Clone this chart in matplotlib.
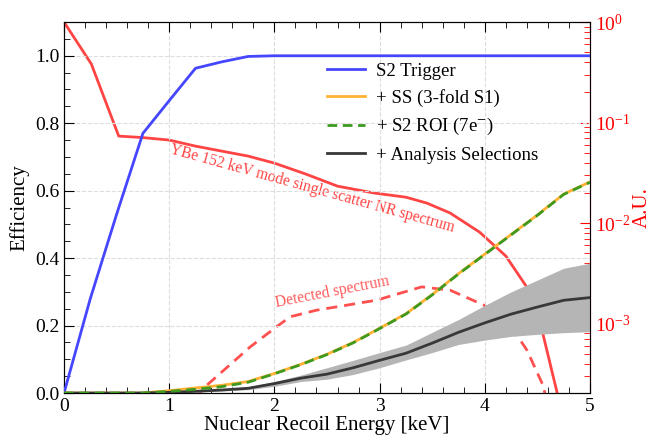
import numpy as np
import matplotlib
matplotlib.use('Agg')
import matplotlib.pyplot as plt
from matplotlib.ticker import MultipleLocator, LogLocator, NullFormatter

plt.rcParams['font.family'] = 'serif'
plt.rcParams['font.serif'] = ['Liberation Serif', 'DejaVu Serif']
plt.rcParams['mathtext.fontset'] = 'stix'

# efficiencies (left axis)
energy = [0, 0.25, 0.5, 0.75, 1.0, 1.25, 1.5, 1.75, 2.0, 2.25, 2.5,
          2.75, 3.0, 3.25, 3.5, 3.75, 4.0, 4.25, 4.5, 4.75, 5.0]
trigger_e = [0, 0.25, 0.5, 0.75, 1.0, 1.25, 1.5, 1.75, 2.0, 5.0]
trigger = [0, 0.28, 0.53, 0.77, 0.867, 0.963, 0.982, 0.998, 1.0, 1.0]
ss = [0, 0, 0, 0, 0.007, 0.015, 0.023, 0.034, 0.058, 0.085, 0.115,
      0.150, 0.192, 0.235, 0.292, 0.354, 0.412, 0.470, 0.528, 0.590, 0.626]
roi = [0, 0, 0, 0, 0.005, 0.011, 0.019, 0.032, 0.057, 0.084, 0.114,
       0.149, 0.191, 0.234, 0.291, 0.353, 0.411, 0.469, 0.527, 0.589, 0.625]
ana = [0, 0, 0, 0, 0.002, 0.005, 0.009, 0.014, 0.028, 0.044, 0.056,
       0.075, 0.097, 0.118, 0.148, 0.180, 0.208, 0.234, 0.255, 0.275, 0.283]
ana_hi = [0, 0, 0, 0, 0.003, 0.007, 0.012, 0.018, 0.034, 0.053, 0.075,
          0.097, 0.120, 0.142, 0.180, 0.218, 0.260, 0.300, 0.335, 0.370, 0.385]
ana_lo = [0, 0, 0, 0, 0.001, 0.003, 0.006, 0.010, 0.020, 0.034, 0.041,
          0.055, 0.075, 0.098, 0.120, 0.144, 0.157, 0.168, 0.174, 0.179, 0.182]

# spectra (right axis, log)
spec_e = [0, 0.26, 0.52, 0.75, 1.0, 1.25, 1.5, 1.75, 2.0, 2.3, 2.6,
          2.95, 3.25, 3.45, 3.67, 3.95, 4.2, 4.47, 4.75]
spec = [1.0, 0.382, 0.0734, 0.0709, 0.067, 0.0583, 0.052, 0.0464, 0.0395,
        0.0307, 0.0233, 0.0199, 0.0181, 0.0158, 0.0126, 0.00813, 0.0047,
        0.00179, 1.1e-4]
det_e = [1.25, 1.34, 1.77, 2.02, 2.15, 2.4, 2.97, 3.4, 3.67, 3.99, 4.21,
         4.4, 4.56, 4.7]
det = [1.8e-4, 2.35e-4, 5.87e-4, 9.3e-4, 1.17e-3, 1.36e-3, 1.71e-3,
       2.32e-3, 2.15e-3, 1.53e-3, 1.08e-3, 5.45e-4, 2.35e-4, 3e-5]

fig = plt.figure(figsize=(6.64, 4.41), dpi=100)
ax = fig.add_axes([0.0964, 0.1088, 0.7922, 0.8412])

ax.fill_between(energy, ana_lo, ana_hi, color='#b5b5b5', lw=0, zorder=1)
ax.plot(trigger_e, trigger, color='#4646ff', lw=2, label='S2 Trigger', zorder=3)
ax.plot(energy, ss, color='#ffb233', lw=2, label='+ SS (3-fold S1)', zorder=3)
ax.plot(energy, roi, color='#3d9a1f', lw=2, ls=(0, (3.5, 2)),
        label='+ S2 ROI (7e$^{-}$)', zorder=4)
ax.plot(energy, ana, color='#383838', lw=2, label='+ Analysis Selections', zorder=3)

ax.set_xlim(0, 5)
ax.set_ylim(0, 1.1)
ax.set_xlabel('Nuclear Recoil Energy [keV]', fontsize=15, labelpad=1)
ax.set_ylabel('Efficiency', fontsize=15, labelpad=4)
ax.xaxis.set_major_locator(MultipleLocator(1))
ax.xaxis.set_minor_locator(MultipleLocator(0.2))
ax.yaxis.set_major_locator(MultipleLocator(0.2))
ax.yaxis.set_minor_locator(MultipleLocator(0.05))
ax.tick_params(which='both', direction='in', top=True, right=False, labelsize=14)
ax.tick_params(which='major', length=7)
ax.tick_params(which='minor', length=4)
ax.grid(True, which='major', ls='--', color='#dddddd', lw=0.8)
ax.set_axisbelow(True)

ax2 = ax.twinx()
ax2.set_yscale('log')
ax2.plot(spec_e, spec, color='#ff4444', lw=2, zorder=2)
ax2.plot(det_e, det, color='#ff5050', lw=2, ls=(0, (4, 2.5)), zorder=2)
ax2.set_ylim(2.04e-4, 1)
ax2.set_xlim(0, 5)
ax2.set_ylabel('A.U.', color='red', fontsize=15, labelpad=2)
ax2.yaxis.set_major_locator(LogLocator(base=10, numticks=10))
ax2.yaxis.set_minor_locator(LogLocator(base=10, subs=np.arange(2, 10), numticks=10))
ax2.yaxis.set_minor_formatter(NullFormatter())
ax2.tick_params(which='both', direction='in', colors='red', labelsize=14)
ax2.tick_params(which='major', length=7)
ax2.tick_params(which='minor', length=4)
ax2.spines['right'].set_color('red')

ax2.text(2.36, 0.0222, 'YBe 152 keV mode single scatter NR spectrum',
         color='#ff4444', fontsize=11.2, rotation=-15.5, ha='center', va='center')
ax2.text(2.55, 2.05e-3, 'Detected spectrum', color='#ff5a5a', fontsize=11.2,
         rotation=11, ha='center', va='center')

ax.legend(loc='upper left', bbox_to_anchor=(0.5, 0.891), frameon=False,
          fontsize=13.5, handlelength=2.0, handletextpad=0.6,
          labelspacing=0.5, borderpad=0, borderaxespad=0)
ax.set_zorder(ax2.get_zorder() + 1)
ax.patch.set_visible(False)

fig.savefig('out.png', dpi=100)
